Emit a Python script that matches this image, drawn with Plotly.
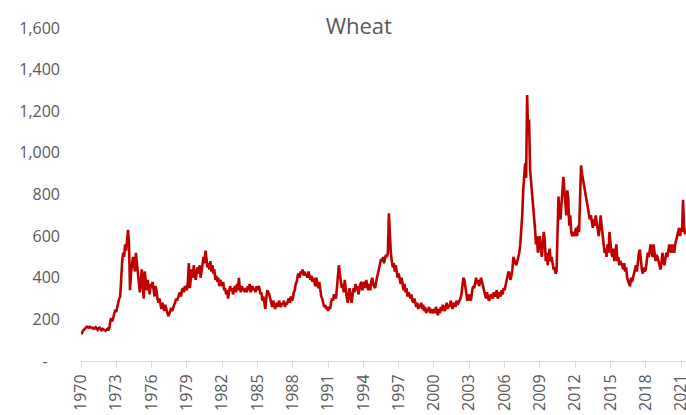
import plotly.graph_objects as go

# Monthly wheat prices (US cents/bushel), Jan 1970 onward
start_year = 1970
values = [
    140,135,145,150,155,160,165,162,160,165,163,158,   # 1970
    160,155,158,162,155,150,158,160,152,148,155,150,   # 1971
    150,145,150,155,148,160,195,205,190,215,230,245,   # 1972
    235,260,290,300,310,420,480,520,500,560,530,580,   # 1973
    630,560,340,420,460,500,470,430,520,480,420,400,   # 1974
    330,380,440,360,300,430,380,340,390,360,320,370,   # 1975
    350,380,330,310,360,340,300,280,300,270,250,280,   # 1976
    260,240,270,250,230,215,225,240,255,240,260,270,   # 1977
    280,300,290,310,320,330,310,340,350,330,360,350,   # 1978
    340,380,470,350,420,440,400,460,420,390,430,450,   # 1979
    420,460,400,440,480,500,470,530,490,450,470,440,   # 1980
    480,430,460,420,440,390,410,380,400,360,390,370,   # 1981
    360,380,340,350,320,340,300,330,360,340,350,320,   # 1982
    340,360,330,370,340,400,350,330,360,340,350,330,   # 1983
    350,330,360,340,370,330,350,360,340,350,330,360,   # 1984
    340,360,350,320,330,290,310,280,250,300,340,330,   # 1985
    320,300,280,260,290,270,250,270,280,260,290,270,   # 1986
    260,280,270,290,260,280,270,290,300,280,310,290,   # 1987
    300,330,340,370,380,410,420,400,430,420,440,410,   # 1988
    430,410,420,400,430,410,390,410,380,400,380,360,   # 1989
    400,370,350,380,340,310,300,280,260,270,250,260,   # 1990
    240,260,250,280,300,290,320,310,300,350,400,460,   # 1991
    420,380,350,370,330,390,340,310,280,330,350,300,   # 1992
    280,320,350,330,370,340,360,320,350,370,380,340,   # 1993
    360,380,350,390,360,340,370,340,380,400,370,360,   # 1994
    350,380,400,420,450,470,490,480,500,470,490,510,   # 1995
    500,520,710,600,520,480,450,470,430,460,420,400,   # 1996
    420,390,370,400,360,340,370,330,350,310,330,320,   # 1997
    300,320,290,280,300,270,260,280,250,270,260,280,   # 1998
    250,270,240,260,230,250,240,260,230,250,240,230,   # 1999
    250,230,260,240,220,250,230,260,240,270,250,240,   # 2000
    260,280,250,270,260,290,270,250,280,270,260,290,   # 2001
    270,280,290,300,320,360,400,390,350,310,290,300,   # 2002
    320,290,300,340,360,350,380,400,370,390,360,380,   # 2003
    400,380,360,340,320,300,330,310,290,300,320,310,   # 2004
    300,330,310,320,340,300,320,330,310,340,320,350,   # 2005
    340,360,380,400,430,420,390,410,440,500,480,470,   # 2006
    460,480,500,520,560,620,700,820,900,950,880,1278,  # 2007
    1100,1160,920,870,800,760,700,640,560,600,520,560, # 2008
    600,540,500,560,620,580,480,520,460,500,540,480,   # 2009
    500,470,440,450,420,430,620,790,700,680,750,800,   # 2010
    885,820,760,700,820,780,650,700,620,600,620,600,   # 2011
    620,640,600,650,620,850,940,900,870,860,820,780,   # 2012
    760,720,700,680,700,660,640,680,650,700,660,620,   # 2013
    600,640,700,650,600,560,520,540,500,560,520,620,   # 2014
    560,520,500,540,480,520,560,480,500,460,480,470,   # 2015
    460,440,470,430,450,400,380,370,360,400,380,410,   # 2016
    420,440,460,430,480,520,535,460,440,420,450,430,   # 2017
    440,480,520,500,540,560,520,500,560,520,480,510,   # 2018
    500,480,460,440,470,520,480,460,490,520,500,540,   # 2019
    560,540,520,560,530,520,560,580,600,620,640,600,   # 2020
    640,620,775,650,610,620,                           # 2021
]
dates = [start_year + i / 12 for i in range(len(values))]

tick_years = list(range(1970, 2022, 3))
tick_labels = [str(y) for y in tick_years]
y_ticks = [0, 200, 400, 600, 800, 1000, 1200, 1400, 1600]
y_labels = ["-\u00a0\u00a0\u00a0", "200", "400", "600", "800", "1,000", "1,200", "1,400", "1,600"]

text_color = "#595959"
font_family = "Open Sans"

fig = go.Figure()
fig.add_trace(go.Scatter(
    x=dates, y=values, mode="lines",
    line=dict(color="#C00000", width=2.6),
    hoverinfo="skip", showlegend=False,
))

fig.update_layout(
    width=686, height=415,
    margin=dict(l=81, r=0, t=28, b=54),
    paper_bgcolor="white", plot_bgcolor="white",
    font=dict(family=font_family, color=text_color, size=16),
    title=dict(text="Wheat", x=0.523, xref="container", xanchor="center",
               y=1 - 26 / 415, yref="container", yanchor="middle",
               font=dict(family=font_family, size=22, color=text_color)),
)
fig.update_xaxes(
    range=[1970, 2021.42], tickvals=tick_years, ticktext=tick_labels,
    tickangle=-90, ticks="outside", ticklen=6, tickcolor="#d9d9d9",
    showline=True, linecolor="#d9d9d9", linewidth=1,
    showgrid=False, zeroline=False, automargin=False,
    ticklabeloverflow="allow",
    tickfont=dict(size=16, color=text_color),
)
fig.update_yaxes(
    range=[0, 1600], tickvals=y_ticks, ticktext=y_labels,
    showgrid=False, zeroline=False, showline=False, ticks="",
    ticklabelstandoff=20, automargin=False,
    tickfont=dict(size=16, color=text_color),
)

fig.write_html(
    "out.html",
    config={"displayModeBar": False},
    post_script="document.body.style.margin='0';document.body.style.padding='0';",
)
